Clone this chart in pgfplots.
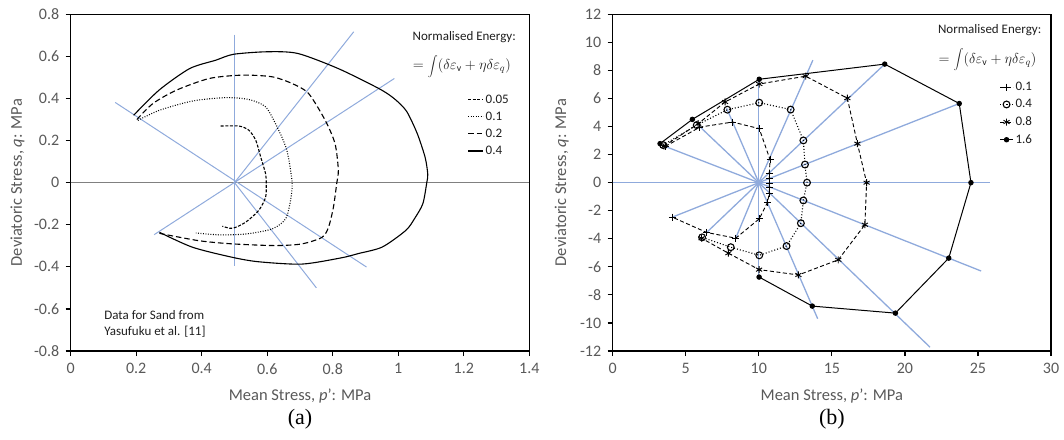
\documentclass[border=0pt]{standalone}
\usepackage{fontspec}
\setmainfont{Carlito}
\newfontfamily\capfont{Liberation Serif}
\usepackage{pgfplots}
\pgfplotsset{compat=1.18}

\definecolor{ray}{RGB}{143,170,220}
\definecolor{txtgray}{RGB}{89,89,89}
\definecolor{legtxt}{RGB}{30,30,30}

\pgfplotsset{
  stressaxis/.style={
    scale only axis, anchor=south west, clip=false,
    axis line style={black, line width=1.4pt},
    tick pos=left, tick align=outside,
    major tick length=5pt,
    every tick/.style={black, line width=1.2pt},
    tick label style={font=\fontsize{16}{19}\selectfont, text=txtgray},
    xticklabel style={yshift=-4pt},
    yticklabel style={xshift=-3pt},
    label style={font=\fontsize{16.5}{19}\selectfont, text=txtgray},
    /pgf/number format/assume math mode=true,
    xlabel style={at={(axis description cs:0.5,-0.135)}, anchor=center},
    ylabel style={at={(axis description cs:-0.116,0.5)}, anchor=center},
    xlabel={Mean Stress, \textit{p}': MPa},
    ylabel={Deviatoric Stress, \textit{q}: MPa},
    legend cell align=left,
    mark options={solid},
  },
  contour/.style={black, line width=1.1pt, smooth, tension=0.45},
}

\begin{document}
\begin{tikzpicture}
\useasboundingbox (0pt,0pt) rectangle (1064pt,439pt);

% ---------- (a) sand ----------
\begin{axis}[stressaxis,
  at={(70.7pt,88pt)}, width=458.6pt, height=336.7pt,
  xmin=0, xmax=1.4, ymin=-0.8, ymax=0.8,
  xtick={0,0.2,0.4,0.6,0.8,1,1.2,1.4},
  ytick={-0.8,-0.6,-0.4,-0.2,0,0.2,0.4,0.6,0.8},
  legend style={at={(axis description cs:0.865,0.768)}, anchor=north west,
    draw=none, fill=none, inner sep=0pt, row sep=3.2pt,
    font=\fontsize{13}{15}\selectfont, text=legtxt},
  legend image code/.code={\draw[#1, sharp plot] (0pt,0pt) -- (15pt,0pt);},
]
% stress axis and loading directions
\addplot[gray, line width=0.9pt, forget plot] coordinates {(0,0) (1.4,0)};
\addplot[ray, line width=1pt, forget plot] coordinates {(0.5,0.704) (0.5,-0.396)};
\addplot[ray, line width=1pt, forget plot] coordinates {(0.136,0.381) (0.903,-0.401)};
\addplot[ray, line width=1pt, forget plot] coordinates {(0.255,-0.247) (0.988,0.495)};
\addplot[ray, line width=1pt, forget plot] coordinates {(0.5,0) (0.864,0.717)};
\addplot[ray, line width=1pt, forget plot] coordinates {(0.5,0) (0.75,-0.5)};

% contours of normalised energy
\addplot[contour, dash pattern=on 3pt off 1.6pt] coordinates {
 (0.458,0.269) (0.514,0.269) (0.544,0.249) (0.565,0.201) (0.580,0.122)
 (0.595,0.042) (0.597,-0.005) (0.595,-0.069) (0.574,-0.132) (0.534,-0.188)
 (0.494,-0.217) (0.463,-0.207)};
\addlegendentry{0.05}
\addplot[contour, dash pattern=on 0.9pt off 1.6pt] coordinates {
 (0.205,0.296) (0.271,0.344) (0.372,0.388) (0.473,0.404) (0.544,0.395)
 (0.595,0.360) (0.630,0.265) (0.660,0.153) (0.676,0) (0.671,-0.085)
 (0.656,-0.172) (0.615,-0.220) (0.534,-0.244) (0.453,-0.248) (0.382,-0.239)};
\addlegendentry{0.1}
\addplot[contour, dash pattern=on 5.5pt off 3pt] coordinates {
 (0.202,0.300) (0.251,0.376) (0.322,0.439) (0.423,0.495) (0.524,0.511)
 (0.615,0.503) (0.676,0.471) (0.726,0.424) (0.777,0.296) (0.807,0.185)
 (0.817,0.06) (0.812,-0.005) (0.802,-0.117) (0.787,-0.212) (0.767,-0.260)
 (0.706,-0.291) (0.625,-0.299) (0.494,-0.291) (0.392,-0.276) (0.271,-0.241)};
\addlegendentry{0.2}
\addplot[contour] coordinates {
 (0.192,0.320) (0.270,0.440) (0.363,0.542) (0.443,0.582) (0.497,0.610)
 (0.600,0.622) (0.693,0.614) (0.817,0.542) (0.941,0.447) (0.987,0.400)
 (1.025,0.340) (1.058,0.233) (1.082,0.120) (1.090,0.040) (1.087,0)
 (1.075,-0.100) (1.050,-0.170) (1.023,-0.227) (0.951,-0.306) (0.878,-0.337)
 (0.827,-0.357) (0.706,-0.387) (0.574,-0.376) (0.494,-0.355) (0.372,-0.307)
 (0.271,-0.236)};
\addlegendentry{0.4}

\node[font=\fontsize{13}{15}\selectfont, text=legtxt] at (axis description cs:0.858,0.931) {Normalised Energy:};
\node[font=\fontsize{14}{16}\selectfont, text=legtxt] at (axis description cs:0.853,0.846)
  {$=\displaystyle\int\!\big(\delta\varepsilon_{\mathrm{v}}+\eta\delta\varepsilon_{q}\big)$};
\node[font=\fontsize{13}{16.5}\selectfont, text=legtxt, anchor=west, align=left]
  at (axis cs:0.092,-0.67) {Data for Sand from\\Yasufuku et al. [11]};
\node[font=\capfont\fontsize{22}{26}\selectfont] at (axis description cs:0.5,-0.203) {(a)};
\end{axis}

% ---------- (b) ----------
\begin{axis}[stressaxis,
  at={(612.7pt,88pt)}, width=438.3pt, height=336.7pt,
  xmin=0, xmax=30, ymin=-12, ymax=12,
  xtick={0,5,10,15,20,25,30},
  ytick={-12,-10,-8,-6,-4,-2,0,2,4,6,8,10,12},
  legend style={at={(axis description cs:0.882,0.805)}, anchor=north west,
    draw=none, fill=none, inner sep=0pt, row sep=3.4pt,
    font=\fontsize{13}{15}\selectfont, text=legtxt},
  legend image code/.code={\draw[mark repeat=2, mark phase=2, #1] plot coordinates {(0pt,0pt) (6.5pt,0pt) (13pt,0pt)};},
]
% loading directions
\addplot[ray, line width=1.3pt, forget plot] coordinates {(0,0) (25.8,0)};
\addplot[ray, line width=1.3pt, forget plot] coordinates {(10,-6.73) (10,7.37)};
\addplot[ray, line width=1.3pt, forget plot] coordinates {(10,0) (13.7,8.73)};
\addplot[ray, line width=1.3pt, forget plot] coordinates {(10,0) (18.62,8.45)};
\addplot[ray, line width=1.3pt, forget plot] coordinates {(10,0) (23.72,5.64)};
\addplot[ray, line width=1.3pt, forget plot] coordinates {(10,0) (25.22,-6.3)};
\addplot[ray, line width=1.3pt, forget plot] coordinates {(10,0) (21.72,-11.73)};
\addplot[ray, line width=1.3pt, forget plot] coordinates {(10,0) (14.03,-9.7)};
\addplot[ray, line width=1.3pt, forget plot] coordinates {(10,0) (8.42,-3.96)};
\addplot[ray, line width=1.3pt, forget plot] coordinates {(10,0) (6.43,-3.55)};
\addplot[ray, line width=1.3pt, forget plot] coordinates {(10,0) (4.08,-2.46)};
\addplot[ray, line width=1.3pt, forget plot] coordinates {(10,0) (3.55,2.6)};
\addplot[ray, line width=1.3pt, forget plot] coordinates {(10,0) (5.9,4.05)};
\addplot[ray, line width=1.3pt, forget plot] coordinates {(10,0) (7.8,5.3)};

% contours of normalised energy
\addplot[black, line width=0.9pt, dash pattern=on 4pt off 2.5pt, mark=+, mark size=3.5pt] coordinates {
 (3.6,2.58) (5.97,3.96) (8.21,4.32) (10.03,3.85) (10.77,1.64) (10.72,0.64)
 (10.72,0.28) (10.72,-0.03) (10.72,-0.36) (10.72,-0.75) (10.6,-1.39)
 (10.03,-2.58) (8.42,-3.96) (6.43,-3.55) (4.08,-2.46)};
\addlegendentry{0.1}
\addplot[black, line width=1.1pt, dash pattern=on 1pt off 2pt, mark=o, mark size=3.4pt] coordinates {
 (3.45,2.68) (5.75,4.1) (7.85,5.2) (10.03,5.7) (12.18,5.21) (13.05,3.01)
 (13.16,1.29) (13.3,0) (13.05,-1.27) (12.88,-2.89) (11.9,-4.52)
 (10.03,-5.18) (8.08,-4.6) (6.12,-3.9)};
\addlegendentry{0.4}
\addplot[black, line width=0.9pt, dash pattern=on 4pt off 2.5pt, mark=asterisk, mark size=3.5pt] coordinates {
 (3.51,2.6) (5.85,4.2) (7.69,5.75) (10.03,7.03) (13.21,7.59) (16.06,6.02)
 (16.75,2.78) (17.38,0) (17.26,-3.0) (15.44,-5.5) (12.71,-6.58)
 (10.02,-6.2) (7.92,-5.03) (6.08,-3.96)};
\addlegendentry{0.8}
\addplot[black, line width=1pt, mark=*, mark size=2.2pt] coordinates {
 (3.24,2.78) (5.45,4.51) (10.03,7.37) (18.62,8.45) (23.72,5.64) (24.52,0)
 (23.0,-5.38) (19.35,-9.3) (13.66,-8.8) (10.02,-6.73)};
\addlegendentry{1.6}

\node[font=\fontsize{13}{15}\selectfont, text=legtxt] at (axis description cs:0.86,0.953) {Normalised Energy:};
\node[font=\fontsize{14}{16}\selectfont, text=legtxt] at (axis description cs:0.855,0.864)
  {$=\displaystyle\int\!\big(\delta\varepsilon_{\mathrm{v}}+\eta\delta\varepsilon_{q}\big)$};
\node[font=\capfont\fontsize{22}{26}\selectfont] at (axis description cs:0.5,-0.203) {(b)};
\end{axis}
\end{tikzpicture}
\end{document}
